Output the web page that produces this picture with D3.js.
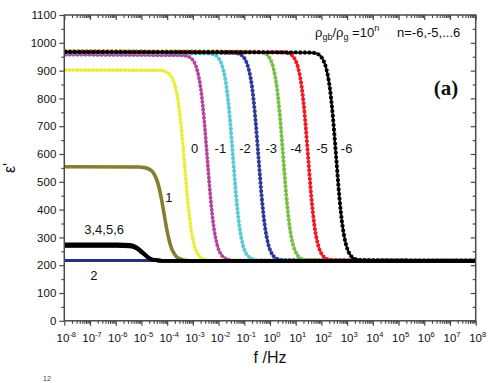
<!DOCTYPE html>
<html>
<head>
<meta charset="utf-8">
<script src="https://cdn.jsdelivr.net/npm/d3@7/dist/d3.min.js"></script>
<style>
  html, body { margin: 0; padding: 0; background: #fff; }
  svg { display: block; font-family: "Liberation Sans", Arial, sans-serif; }
</style>
</head>
<body>
<svg id="chart" width="503" height="383"></svg>
<script>
// ---------------- DATA (frequency exponents log10(f/Hz), and ε' values) ----------------
const xTickExponents = [-8,-7,-6,-5,-4,-3,-2,-1,0,1,2,3,4,5,6,7,8];
const yTickValues = [0,100,200,300,400,500,600,700,800,900,1000,1100];

const expN6 = [-8, 1.57, 1.82, 2.07, 2.195, 2.32, 2.445, 2.57, 2.695, 2.82, 2.945, 3.07, 3.32, 3.57, 8];
const epsN6 = [967, 965, 961, 938, 905, 842, 735, 592, 448, 341, 278, 245, 222, 218, 216];

const expN5 = [-8, 0.48, 0.73, 0.98, 1.105, 1.23, 1.355, 1.48, 1.605, 1.73, 1.855, 1.98, 2.23, 2.48, 8];
const epsN5 = [968, 966, 962, 939, 906, 843, 736, 592, 448, 341, 278, 245, 222, 218, 216];

const expN4 = [-8, -0.49, -0.24, 0.01, 0.135, 0.26, 0.385, 0.51, 0.635, 0.76, 0.885, 1.01, 1.26, 1.51, 8];
const epsN4 = [970, 968, 964, 941, 908, 845, 737, 593, 449, 341, 278, 245, 222, 218, 216];

const expN3 = [-8, -1.45, -1.2, -0.95, -0.825, -0.7, -0.575, -0.45, -0.325, -0.2, -0.075, 0.05, 0.3, 0.55, 8];
const epsN3 = [966, 964, 960, 937, 904, 842, 734, 591, 448, 341, 278, 245, 222, 218, 216];

const expN2 = [-8, -2.44, -2.19, -1.94, -1.815, -1.69, -1.565, -1.44, -1.315, -1.19, -1.065, -0.94, -0.69, -0.44, 8];
const epsN2 = [964, 962, 958, 936, 903, 840, 733, 590, 447, 340, 277, 244, 222, 217, 216];

const expN1 = [-8, -3.44, -3.19, -2.94, -2.815, -2.69, -2.565, -2.44, -2.315, -2.19, -2.065, -1.94, -1.69, -1.44, 8];
const epsN1 = [957, 955, 951, 929, 896, 834, 728, 586, 445, 339, 277, 244, 222, 217, 216];

const exp0 = [-8, -4.32, -4.07, -3.82, -3.695, -3.57, -3.445, -3.32, -3.195, -3.07, -2.945, -2.82, -2.57, -2.32, 8];
const eps0 = [902, 901, 897, 876, 846, 788, 690, 559, 428, 330, 272, 242, 221, 217, 216];

const exp1 = [-8, -5.12, -4.87, -4.62, -4.495, -4.37, -4.245, -4.12, -3.995, -3.87, -3.745, -3.62, -3.37, -3.12, 8];
const eps1 = [554, 553, 551, 541, 526, 498, 450, 385, 320, 272, 244, 229, 219, 216, 216];

const exp2 = [-8, 8];
const eps2 = [217, 217];

const exp3456 = [-8, -5.95, -5.45, -5.2, -4.95, -4.7, -4.45, -3.95, 8];
const eps3 = [275, 275, 273, 265, 246, 226, 218, 216, 216];
const eps4 = [273, 273, 271, 264, 245, 225, 218, 216, 216];
const eps5 = [271, 271, 269, 262, 244, 225, 218, 216, 216];
const eps6 = [269, 269, 267, 260, 243, 225, 218, 216, 216];

// series: n, exponents, values
const series = [
  { n: "0",  ex: exp0,  ey: eps0 },
  { n: "-1", ex: expN1, ey: epsN1 },
  { n: "-2", ex: expN2, ey: epsN2 },
  { n: "-3", ex: expN3, ey: epsN3 },
  { n: "-4", ex: expN4, ey: epsN4 },
  { n: "-5", ex: expN5, ey: epsN5 },
  { n: "-6", ex: expN6, ey: epsN6 },
  { n: "1",  ex: exp1,  ey: eps1 },
  { n: "2",  ex: exp2,  ey: eps2 },
  { n: "3",  ex: exp3456, ey: eps3 },
  { n: "4",  ex: exp3456, ey: eps4 },
  { n: "5",  ex: exp3456, ey: eps5 },
  { n: "6",  ex: exp3456, ey: eps6 }
];

// curve labels: text, anchor point (exponent, value)
const curveLabels = [
  { t: "0",  e: -2.93, v: 620 },
  { t: "-1", e: -1.93, v: 620 },
  { t: "-2", e: -0.97, v: 620 },
  { t: "-3", e: 0.05,  v: 620 },
  { t: "-4", e: 1.01,  v: 620 },
  { t: "-5", e: 2.02,  v: 620 },
  { t: "-6", e: 2.98,  v: 620 },
  { t: "1",  e: -3.93, v: 445 },
  { t: "3,4,5,6", e: -6.45, v: 330 },
  { t: "2",  e: -6.85, v: 165 }
];

// ---------------- STYLES ----------------
const style = {
  "0":  { color: "#ecec3a", dash: "2.4,1.6", w: 3.6 },
  "-1": { color: "#b5449d", dash: "2.4,1.6", w: 3.6 },
  "-2": { color: "#5ccad6", dash: "2.6,1.6", w: 3.8 },
  "-3": { color: "#2e3a9a", dash: "2.6,1.6", w: 3.8 },
  "-4": { color: "#76c043", dash: "2.6,1.6", w: 3.8 },
  "-5": { color: "#ee1c24", dash: "2.6,1.6", w: 3.8 },
  "-6": { color: "#000000", dash: "2.8,1.8", w: 3.8 },
  "1":  { color: "#80802f", dash: null, w: 3.6 },
  "2":  { color: "#2b2f80", dash: null, w: 3.0 },
  "3":  { color: "#000000", dash: null, w: 3.6 },
  "4":  { color: "#000000", dash: null, w: 3.6 },
  "5":  { color: "#000000", dash: null, w: 3.6 },
  "6":  { color: "#000000", dash: null, w: 3.6 }
};

const W = 503, H = 383;
const L = 64.3, R = 475.7, T = 15, B = 320.8;
const svg = d3.select("#chart");

const x = d3.scaleLog().domain([1e-8, 1e8]).range([L, R]);
const y = d3.scaleLinear().domain([0, 1100]).range([B, T]);

svg.append("defs").append("clipPath").attr("id", "plotclip")
  .append("rect").attr("x", L).attr("y", T - 2).attr("width", R - L).attr("height", B - T + 2);

const line = d3.line()
  .x(d => x(Math.pow(10, d[0])))
  .y(d => y(d[1]))
  .curve(d3.curveMonotoneX);

const gCurves = svg.append("g").attr("clip-path", "url(#plotclip)");
series.forEach(s => {
  const st = style[s.n];
  const pts = s.ex.map((e, i) => [e, s.ey[i]]);
  if (st.dash) {
    gCurves.append("path").attr("d", line(pts))
      .attr("fill", "none").attr("stroke", st.color).attr("stroke-width", 2.2);
    gCurves.append("path").attr("d", line(pts))
      .attr("fill", "none").attr("stroke", st.color).attr("stroke-width", st.w)
      .attr("stroke-dasharray", st.dash);
  } else {
    gCurves.append("path").attr("d", line(pts))
      .attr("fill", "none").attr("stroke", st.color).attr("stroke-width", st.w);
  }
});

// ---------------- AXES ----------------
const axisColor = "#4a4a4a";
const majorX = xTickExponents.map(e => Math.pow(10, e));
const minorX = [];
for (let e = -8; e < 8; e++) for (let k = 2; k <= 9; k++) minorX.push(k * Math.pow(10, e));
const minorY = d3.range(50, 1100, 100);

function styleAxis(g) {
  g.select(".domain").remove();
  g.selectAll(".tick line").attr("stroke", axisColor).attr("stroke-width", 1.2);
  g.selectAll(".tick text").remove();
}

// bottom
svg.append("g").attr("transform", `translate(0,${B})`)
  .call(d3.axisBottom(x).tickValues(majorX).tickSize(5)).call(styleAxis);
svg.append("g").attr("transform", `translate(0,${B})`)
  .call(d3.axisBottom(x).tickValues(minorX).tickSize(3)).call(styleAxis);
// top (ticks inward)
svg.append("g").attr("transform", `translate(0,${T})`)
  .call(d3.axisBottom(x).tickValues(majorX).tickSize(5)).call(styleAxis);
svg.append("g").attr("transform", `translate(0,${T})`)
  .call(d3.axisBottom(x).tickValues(minorX).tickSize(3)).call(styleAxis);
// left
svg.append("g").attr("transform", `translate(${L},0)`)
  .call(d3.axisLeft(y).tickValues(yTickValues).tickSize(5)).call(styleAxis);
svg.append("g").attr("transform", `translate(${L},0)`)
  .call(d3.axisLeft(y).tickValues(minorY).tickSize(3)).call(styleAxis);
// right (ticks inward)
svg.append("g").attr("transform", `translate(${R},0)`)
  .call(d3.axisLeft(y).tickValues(yTickValues).tickSize(5)).call(styleAxis);
svg.append("g").attr("transform", `translate(${R},0)`)
  .call(d3.axisLeft(y).tickValues(minorY).tickSize(3)).call(styleAxis);

// frame
svg.append("rect").attr("x", L).attr("y", T).attr("width", R - L).attr("height", B - T)
  .attr("fill", "none").attr("stroke", axisColor).attr("stroke-width", 1.5);

// y tick labels
svg.append("g").selectAll("text").data(yTickValues).join("text")
  .attr("x", L - 8).attr("y", d => y(d)).attr("dy", "0.36em")
  .attr("text-anchor", "end").attr("font-size", 11.5).attr("fill", "#111")
  .text(d => d);

// x tick labels: 10^n
const xl = svg.append("g").selectAll("text").data(xTickExponents).join("text")
  .attr("x", d => x(Math.pow(10, d)) + 2).attr("y", 342)
  .attr("text-anchor", "middle").attr("font-size", 11.5).attr("fill", "#111");
xl.append("tspan").text("10");
xl.append("tspan").attr("dy", -5).attr("font-size", 7.5).text(d => d);

// axis titles
svg.append("text").attr("transform", "translate(15,168) rotate(-90)")
  .attr("text-anchor", "middle").attr("font-size", 16).attr("fill", "#111").text("ε'");
svg.append("text").attr("x", 270).attr("y", 363).attr("text-anchor", "middle")
  .attr("font-size", 16).attr("fill", "#111").text("f /Hz");

// legend-like annotation
const ann = svg.append("text").attr("x", 315).attr("y", 37).attr("font-size", 13).attr("fill", "#111");
ann.append("tspan").text("ρ");
ann.append("tspan").attr("dy", 3).attr("font-size", 9).text("gb");
ann.append("tspan").attr("dy", -3).text("/ρ");
ann.append("tspan").attr("dy", 3).attr("font-size", 9).text("g");
ann.append("tspan").attr("dy", -3).text(" =10");
ann.append("tspan").attr("dy", -6).attr("font-size", 9).text("n");
svg.append("text").attr("x", 397).attr("y", 37).attr("font-size", 13).attr("fill", "#111")
  .text("n=-6,-5,...6");

svg.append("text").attr("x", 446).attr("y", 95).attr("text-anchor", "middle")
  .attr("font-family", "Liberation Serif, Times New Roman, serif").attr("font-weight", "bold")
  .attr("font-size", 21).attr("fill", "#111").text("(a)");

// curve labels
svg.append("g").selectAll("text").data(curveLabels).join("text")
  .attr("x", d => x(Math.pow(10, d.e))).attr("y", d => y(d.v)).attr("dy", "0.36em")
  .attr("text-anchor", "middle").attr("font-size", 13).attr("fill", "#111")
  .text(d => d.t);

// small fragment text at bottom-left of the source image
svg.append("text").attr("x", 43).attr("y", 381).attr("font-size", 7).attr("fill", "#444").text("12");
</script>
</body>
</html>
